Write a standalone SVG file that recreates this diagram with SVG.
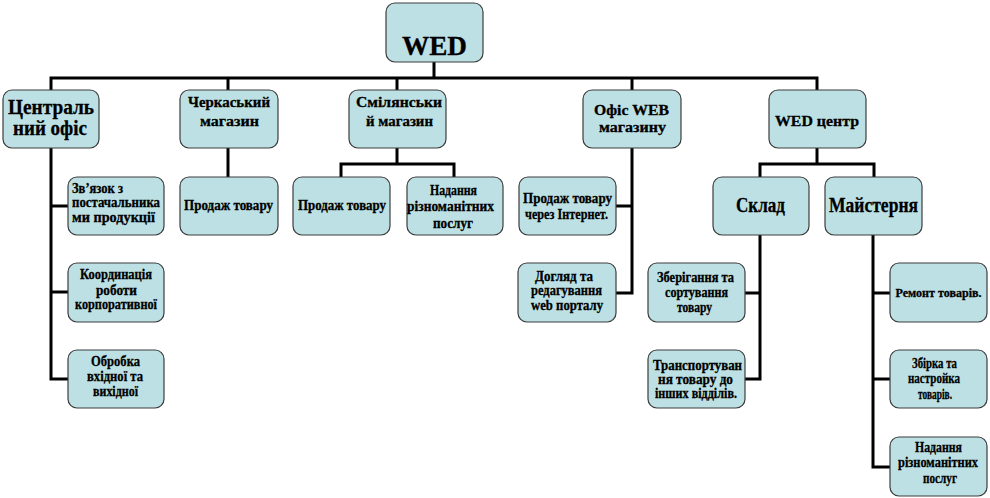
<svg xmlns="http://www.w3.org/2000/svg" width="990" height="498" viewBox="0 0 990 498">
<style>
.box{fill:#BCE0E3;stroke:#3c3c3c;stroke-width:1.2}
.t{font-family:"Liberation Serif","Times New Roman",serif;font-weight:bold;fill:#000;stroke:#000;stroke-width:0.3;text-anchor:middle}
.s{font-size:14px}
.m{font-size:15px}
.l{font-size:20px}
.lf{text-anchor:start}
#connectors path{fill:none;stroke:#000;stroke-width:3;stroke-linecap:square}
</style>
<rect width="990" height="498" fill="#fff"/>
<g id="connectors">
<path d="M434,62V78M51,78H817M51,78V90M228,78V90M397,78V90M632,78V90M817,78V90"/>
<path d="M51,148V379M51,206H68M51,292H68M51,379H68"/>
<path d="M228,148V177"/>
<path d="M397,148V164M341,164H454M341,164V177M454,164V177"/>
<path d="M632,148V293M632,206H616M632,293H616"/>
<path d="M817,148V164M760,164H874M760,164V177M874,164V177"/>
<path d="M760,235V379M760,293H745M760,379H745"/>
<path d="M873,235V467M873,293H890M873,379H890M873,467H890"/>
</g>
<g id="root"><rect class="box" x="386" y="3" width="97" height="59" rx="9"/>
<text class="t" x="434.5" y="55" font-size="27" textLength="65" lengthAdjust="spacingAndGlyphs">WED</text></g>
<g id="central"><rect class="box" x="3" y="90" width="96" height="58" rx="9"/>
<text class="t l" x="51" y="114" textLength="86" lengthAdjust="spacingAndGlyphs">Централь</text>
<text class="t l" x="50" y="135" textLength="74" lengthAdjust="spacingAndGlyphs">ний офіс</text></g>
<g id="cherkasy"><rect class="box" x="180" y="90" width="98" height="58" rx="9"/>
<text class="t m" x="229" y="107" textLength="82" lengthAdjust="spacingAndGlyphs">Черкаський</text>
<text class="t m" x="229.5" y="126" textLength="59" lengthAdjust="spacingAndGlyphs">магазин</text></g>
<g id="smila"><rect class="box" x="349" y="90" width="97" height="58" rx="9"/>
<text class="t m" x="399" y="107" textLength="86" lengthAdjust="spacingAndGlyphs">Смілянськи</text>
<text class="t m" x="399.5" y="126" textLength="67" lengthAdjust="spacingAndGlyphs">й магазин</text></g>
<g id="webOffice"><rect class="box" x="583" y="90" width="98" height="58" rx="9"/>
<text class="t m" x="631.5" y="115" textLength="75" lengthAdjust="spacingAndGlyphs">Офіс WEB</text>
<text class="t m" x="632.5" y="132" textLength="67" lengthAdjust="spacingAndGlyphs">магазину</text></g>
<g id="wedCenter"><rect class="box" x="769" y="90" width="97" height="58" rx="9"/>
<text class="t m" x="817" y="126" textLength="84" lengthAdjust="spacingAndGlyphs">WED центр</text></g>
<g id="suppliers"><rect class="box" x="68" y="177" width="96" height="58" rx="9"/>
<text class="t s lf" x="72" y="193" textLength="51" lengthAdjust="spacingAndGlyphs">Зв’язок з</text>
<text class="t s lf" x="72" y="207" textLength="88" lengthAdjust="spacingAndGlyphs">постачальника</text>
<text class="t s lf" x="72" y="222" textLength="83" lengthAdjust="spacingAndGlyphs">ми продукції</text></g>
<g id="coordination"><rect class="box" x="68" y="263" width="96" height="59" rx="9"/>
<text class="t s" x="116" y="279" textLength="72" lengthAdjust="spacingAndGlyphs">Координація</text>
<text class="t s" x="116.5" y="295" textLength="41" lengthAdjust="spacingAndGlyphs">роботи</text>
<text class="t s" x="116" y="309" textLength="82" lengthAdjust="spacingAndGlyphs">корпоративної</text></g>
<g id="processing"><rect class="box" x="68" y="350" width="96" height="58" rx="9"/>
<text class="t s" x="115.5" y="366" textLength="49" lengthAdjust="spacingAndGlyphs">Обробка</text>
<text class="t s" x="115" y="381" textLength="56" lengthAdjust="spacingAndGlyphs">вхідної  та</text>
<text class="t s" x="115.5" y="396" textLength="45" lengthAdjust="spacingAndGlyphs">вихідної</text></g>
<g id="sale1"><rect class="box" x="180" y="177" width="98" height="58" rx="9"/>
<text class="t s" x="228.5" y="210" textLength="89" lengthAdjust="spacingAndGlyphs">Продаж товару</text></g>
<g id="sale2"><rect class="box" x="293" y="177" width="97" height="58" rx="9"/>
<text class="t s" x="342" y="210" textLength="88" lengthAdjust="spacingAndGlyphs">Продаж товару</text></g>
<g id="services1"><rect class="box" x="407" y="177" width="96" height="58" rx="9"/>
<text class="t s" x="453.5" y="195" textLength="47" lengthAdjust="spacingAndGlyphs">Надання</text>
<text class="t s" x="450.5" y="211" textLength="87" lengthAdjust="spacingAndGlyphs">різноманітних</text>
<text class="t s" x="453" y="228" textLength="40" lengthAdjust="spacingAndGlyphs">послуг</text></g>
<g id="onlineSale"><rect class="box" x="519" y="177" width="97" height="58" rx="9"/>
<text class="t s" x="567.5" y="203" textLength="89" lengthAdjust="spacingAndGlyphs">Продаж товару</text>
<text class="t s" x="566.5" y="219" textLength="83" lengthAdjust="spacingAndGlyphs">через Інтернет.</text></g>
<g id="portal"><rect class="box" x="518" y="263" width="98" height="59" rx="9"/>
<text class="t s" x="564" y="281" textLength="58" lengthAdjust="spacingAndGlyphs">Догляд та</text>
<text class="t s" x="566.5" y="295" textLength="71" lengthAdjust="spacingAndGlyphs">редагування</text>
<text class="t s" x="567" y="310" textLength="72" lengthAdjust="spacingAndGlyphs">web порталу</text></g>
<g id="warehouse"><rect class="box" x="713" y="177" width="96" height="58" rx="9"/>
<text class="t l" x="760.5" y="212" textLength="49" lengthAdjust="spacingAndGlyphs">Склад</text></g>
<g id="workshop"><rect class="box" x="825" y="177" width="97" height="58" rx="9"/>
<text class="t l" x="873.5" y="212" textLength="89" lengthAdjust="spacingAndGlyphs">Майстерня</text></g>
<g id="storage"><rect class="box" x="648" y="263" width="97" height="59" rx="9"/>
<text class="t s" x="695.5" y="282" textLength="77" lengthAdjust="spacingAndGlyphs">Зберігання та</text>
<text class="t s" x="696.5" y="297" textLength="63" lengthAdjust="spacingAndGlyphs">сортування</text>
<text class="t s" x="694.5" y="312" textLength="35" lengthAdjust="spacingAndGlyphs">товару</text></g>
<g id="transport"><rect class="box" x="648" y="350" width="97" height="58" rx="9"/>
<text class="t s" x="697.5" y="370" textLength="89" lengthAdjust="spacingAndGlyphs">Транспортуван</text>
<text class="t s" x="695.5" y="384" textLength="75" lengthAdjust="spacingAndGlyphs">ня товару до</text>
<text class="t s" x="696" y="398" textLength="82" lengthAdjust="spacingAndGlyphs">інших  відділів.</text></g>
<g id="repair"><rect class="box" x="890" y="263" width="97" height="59" rx="9"/>
<text class="t" x="938.5" y="297" font-size="12.5" textLength="86" lengthAdjust="spacingAndGlyphs">Ремонт товарів.</text></g>
<g id="assembly"><rect class="box" x="890" y="350" width="97" height="58" rx="9"/>
<text class="t s" x="934.5" y="368" textLength="45" lengthAdjust="spacingAndGlyphs">Збірка та</text>
<text class="t s" x="934" y="383" textLength="52" lengthAdjust="spacingAndGlyphs">настройка</text>
<text class="t s" x="935" y="399" textLength="34" lengthAdjust="spacingAndGlyphs">товарів.</text></g>
<g id="services2"><rect class="box" x="890" y="437" width="97" height="59" rx="9"/>
<text class="t s" x="938.5" y="452" textLength="47" lengthAdjust="spacingAndGlyphs">Надання</text>
<text class="t s" x="938" y="467" textLength="80" lengthAdjust="spacingAndGlyphs">різноманітних</text>
<text class="t s" x="940" y="483" textLength="34" lengthAdjust="spacingAndGlyphs">послуг</text></g>
</svg>
